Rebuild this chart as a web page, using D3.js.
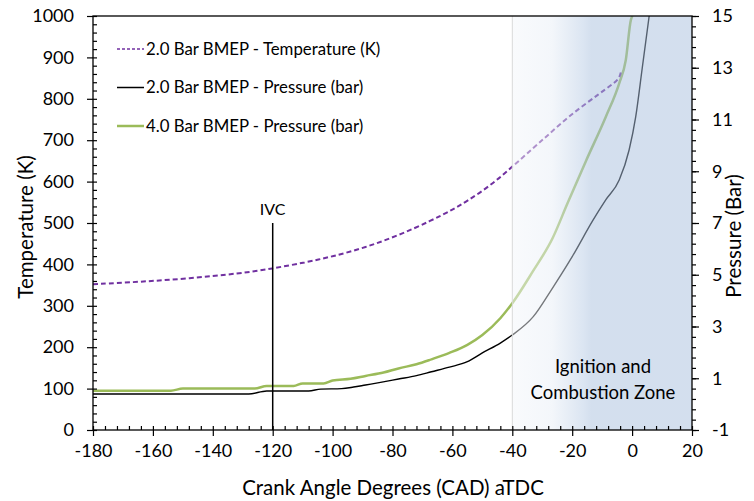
<!DOCTYPE html>
<html>
<head>
<meta charset="utf-8">
<script src="https://cdn.jsdelivr.net/npm/d3@7"></script>
<style>
  body { margin: 0; background: #fff; }
  svg { display: block; font-family: Lato, "Open Sans", sans-serif; }
</style>
</head>
<body>
<svg id="chart" width="754" height="501"></svg>
<script>
// crank angle (deg aTDC) / value pairs
const tempCad = [-180, -164, -148, -131, -120, -109, -100, -89, -78, -67, -60, -55, -47, -40, -33, -28, -22, -17, -11, -7, -4.3, -3.7];
const tempK = [352, 358, 366, 378, 390, 405, 419, 441, 470, 506, 532, 553, 592, 636, 681, 713, 752, 780, 812, 833, 848, 866];

const p2Cad = [-180, -128, -122, -108, -104, -97, -93, -89, -84, -78, -72, -67, -61, -55, -50, -44, -40, -33, -27, -20, -13, -8.8, -4.3, -1, 1.2, 3.4, 5.7];
const p2Bar = [0.39, 0.39, 0.51, 0.51, 0.58, 0.6, 0.66, 0.74, 0.84, 0.97, 1.1, 1.25, 1.43, 1.64, 1.98, 2.36, 2.67, 3.38, 4.41, 5.7, 7.12, 7.89, 8.66, 9.82, 11.1, 13.0, 15.0];

const p4Cad = [-180, -154, -150, -126, -122, -113, -110, -103, -100, -94, -89, -83, -78, -72, -67, -61, -55, -50, -44, -40, -33.2, -26.6, -21.6, -15.4, -8.8, -4.3, -2.1, -0.4, 0.1];
const p4Bar = [0.52, 0.52, 0.6, 0.6, 0.7, 0.7, 0.8, 0.8, 0.91, 0.98, 1.09, 1.22, 1.38, 1.54, 1.73, 1.98, 2.29, 2.67, 3.32, 3.9, 5.12, 6.4, 7.75, 9.4, 11.1, 12.4, 13.3, 14.85, 15.0];

const xTicks = d3.range(-180, 21, 20);
const tempTicks = d3.range(0, 1001, 100);
const presTicks = d3.range(-1, 16, 2);

const ivcCad = -120, ivcTop = 500;
const zone = [-40, 20];

const legendItems = [
  { label: "2.0 Bar BMEP - Temperature (K)", color: "#7030a0", dash: "3,2", width: 1.3 },
  { label: "2.0 Bar BMEP - Pressure (bar)", color: "#000", dash: null, width: 1.5 },
  { label: "4.0 Bar BMEP - Pressure (bar)", color: "#9bbb59", dash: null, width: 2.5 }
];

const svg = d3.select("#chart");
const mLeft = 93, mRight = 692, mTop = 16, mBottom = 430;

const x = d3.scaleLinear().domain([-180, 20]).range([mLeft, mRight]);
const yT = d3.scaleLinear().domain([0, 1000]).range([mBottom, mTop]);
const yP = d3.scaleLinear().domain([-1, 15]).range([mBottom, mTop]);

svg.append("clipPath").attr("id", "plot")
  .append("rect").attr("x", mLeft).attr("y", mTop).attr("width", mRight - mLeft).attr("height", mBottom - mTop);

const g = svg.append("g").attr("clip-path", "url(#plot)");

const tempLine = d3.line().x(d => x(d[0])).y(d => yT(d[1])).curve(d3.curveBasis);
const presLine = d3.line().x(d => x(d[0])).y(d => yP(d[1])).curve(d3.curveMonotoneX);

g.append("path")
  .attr("d", presLine(d3.zip(p4Cad, p4Bar)))
  .attr("fill", "none").attr("stroke", "#9bbb59").attr("stroke-width", 2.5);
g.append("path")
  .attr("d", presLine(d3.zip(p2Cad, p2Bar)))
  .attr("fill", "none").attr("stroke", "#000").attr("stroke-width", 1.4);
g.append("path")
  .attr("d", tempLine(d3.zip(tempCad, tempK)))
  .attr("fill", "none").attr("stroke", "#7030a0").attr("stroke-width", 2)
  .attr("stroke-dasharray", "5,3");

// IVC marker
g.append("line")
  .attr("x1", x(ivcCad)).attr("x2", x(ivcCad))
  .attr("y1", yT(0)).attr("y2", yT(ivcTop))
  .attr("stroke", "#000").attr("stroke-width", 1.5);
svg.append("text")
  .attr("x", x(ivcCad)).attr("y", yT(ivcTop) - 8)
  .attr("text-anchor", "middle").attr("font-size", 16).attr("fill", "#000")
  .text("IVC");

// ignition zone overlay (sits over the curves, fading them)
const grad = svg.append("defs").append("linearGradient")
  .attr("id", "zoneGrad").attr("x1", "0%").attr("x2", "100%").attr("y1", "0%").attr("y2", "0%");
[[0, "#f3f6fa"], [0.22, "#e8eef6"], [0.4, "#b6cae4"], [0.44, "#a8bfdd"], [1, "#a8bfdd"]]
  .forEach(([o, c]) => grad.append("stop").attr("offset", o).attr("stop-color", c));

svg.append("rect")
  .attr("x", x(zone[0])).attr("y", mTop)
  .attr("width", x(zone[1]) - x(zone[0])).attr("height", mBottom - mTop)
  .attr("fill", "url(#zoneGrad)").attr("opacity", 0.5);
svg.append("line")
  .attr("x1", x(zone[0])).attr("x2", x(zone[0]))
  .attr("y1", mTop).attr("y2", mBottom)
  .attr("stroke", "#d9d9d9").attr("stroke-width", 1);

const zoneText = svg.append("text")
  .attr("text-anchor", "middle").attr("font-size", 18.5).attr("fill", "#000");
zoneText.append("tspan").attr("x", 603).attr("y", 373).text("Ignition and");
zoneText.append("tspan").attr("x", 603).attr("y", 399).text("Combustion Zone");

// axes
function styleAxis(sel) {
  sel.select(".domain").remove();
  sel.selectAll("line").attr("stroke", "#000").attr("stroke-width", 1.2);
  sel.selectAll("text").attr("fill", "#000").attr("font-size", 18).attr("font-family", "Lato, sans-serif");
}
const plain = d => String(d);

svg.append("g").attr("transform", `translate(0,${mBottom})`)
  .call(d3.axisBottom(x).tickValues(d3.range(-180, 21, 4)).tickSize(-4).tickFormat(""))
  .call(styleAxis);
svg.append("g").attr("transform", `translate(0,${mBottom})`)
  .call(d3.axisBottom(x).tickValues(xTicks).tickSize(6).tickPadding(8).tickFormat(plain))
  .call(styleAxis);

svg.append("g").attr("transform", `translate(${mLeft},0)`)
  .call(d3.axisLeft(yT).tickValues(d3.range(0, 1001, 20)).tickSize(-4).tickFormat(""))
  .call(styleAxis);
svg.append("g").attr("transform", `translate(${mLeft},0)`)
  .call(d3.axisLeft(yT).tickValues(tempTicks).tickSize(6).tickPadding(13).tickFormat(plain))
  .call(styleAxis);

svg.append("g").attr("transform", `translate(${mRight},0)`)
  .call(d3.axisRight(yP).tickValues(d3.range(-1, 15.01, 0.4)).tickSize(4).tickFormat(""))
  .call(styleAxis);
svg.append("g").attr("transform", `translate(${mRight},0)`)
  .call(d3.axisRight(yP).tickValues(presTicks).tickSize(7).tickPadding(13).tickFormat(plain))
  .call(styleAxis);

// frame
svg.append("rect")
  .attr("x", mLeft).attr("y", mTop).attr("width", mRight - mLeft).attr("height", mBottom - mTop)
  .attr("fill", "none").attr("stroke", "#000").attr("stroke-width", 1.3);

// axis titles
svg.append("text")
  .attr("x", 393).attr("y", 495)
  .attr("text-anchor", "middle").attr("font-size", 20.5).attr("fill", "#000")
  .text("Crank Angle Degrees (CAD) aTDC");
svg.append("text")
  .attr("transform", "translate(33,227) rotate(-90)")
  .attr("text-anchor", "middle").attr("font-size", 20.5).attr("fill", "#000")
  .text("Temperature (K)");
svg.append("text")
  .attr("transform", "translate(741,236) rotate(-90)")
  .attr("text-anchor", "middle").attr("font-size", 20.5).attr("fill", "#000")
  .text("Pressure (Bar)");

// legend
const legend = svg.append("g");
legendItems.forEach((d, i) => {
  const yy = 49 + i * 38.5;
  legend.append("line")
    .attr("x1", 117).attr("x2", 144).attr("y1", yy).attr("y2", yy)
    .attr("stroke", d.color).attr("stroke-width", d.width)
    .attr("stroke-dasharray", d.dash);
  legend.append("text")
    .attr("x", 146).attr("y", yy + 5.5)
    .attr("font-size", 16.8).attr("fill", "#000")
    .text(d.label);
});
</script>
</body>
</html>
